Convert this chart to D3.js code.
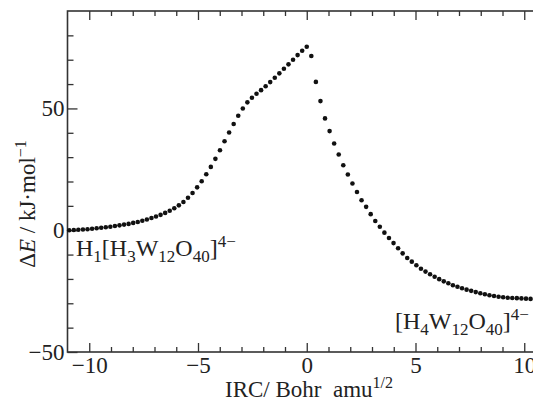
<!DOCTYPE html>
<html>
<head>
<meta charset="utf-8">
<title>IRC energy profile</title>
<script src="https://cdnjs.cloudflare.com/ajax/libs/d3/7.8.5/d3.min.js"></script>
<style>
  body { margin: 0; background: #fff; }
  svg text { font-family: "Liberation Serif", "Times New Roman", "DejaVu Serif", serif; fill: #222; }
</style>
</head>
<body>
<svg id="svg" width="533" height="409"></svg>
<script>
// IRC coordinate (Bohr amu^1/2) and relative energy (kJ/mol)
const ircLeft = [-10.92, -10.71, -10.5, -10.29, -10.08, -9.87, -9.66, -9.45, -9.24, -9.03,
  -8.82, -8.61, -8.4, -8.19, -7.98, -7.77, -7.56, -7.35, -7.14, -6.93,
  -6.72, -6.51, -6.3, -6.09, -5.88, -5.67, -5.46, -5.25, -5.04, -4.83,
  -4.62, -4.41, -4.2, -3.99, -3.78, -3.57, -3.36, -3.15, -2.94, -2.73,
  -2.52, -2.31, -2.1, -1.89, -1.68, -1.47, -1.26, -1.05, -0.84, -0.63,
  -0.42, -0.21, 0]
const energyLeft = [0.0, 0.1, 0.2, 0.3, 0.4, 0.6, 0.8, 1.0, 1.2, 1.4,
  1.7, 2.0, 2.3, 2.6, 3.0, 3.4, 3.9, 4.4, 5.0, 5.6,
  6.3, 7.1, 8.0, 9.0, 10.2, 11.6, 13.3, 15.3, 17.6, 20.1,
  23.0, 26.0, 29.3, 32.8, 36.5, 40.1, 43.6, 47.0, 50.0, 52.5,
  54.4, 56.0, 57.5, 59.1, 60.8, 62.6, 64.4, 66.3, 68.1, 70.0,
  71.9, 73.7, 75.3]

const ircRight = [0.21, 0.42, 0.63, 0.84, 1.05, 1.26, 1.47, 1.68, 1.89, 2.1,
  2.31, 2.52, 2.73, 2.94, 3.15, 3.36, 3.57, 3.78, 3.99, 4.2,
  4.41, 4.62, 4.83, 5.04, 5.25, 5.46, 5.67, 5.88, 6.09, 6.3,
  6.51, 6.72, 6.93, 7.14, 7.35, 7.56, 7.77, 7.98, 8.19, 8.4,
  8.61, 8.82, 9.03, 9.24, 9.45, 9.66, 9.87, 10.08, 10.29, 10.5,
  10.71, 10.92]
const energyRight = [71.5, 60.9, 53.0, 45.9, 40.7, 35.6, 31.1, 26.7, 22.9, 19.2,
  15.7, 12.3, 9.6, 6.6, 3.8, 1.4, -1.0, -3.2, -5.3, -7.4,
  -9.5, -11.4, -12.9, -14.4, -15.8, -17.0, -18.1, -19.1, -20.1, -21.0,
  -21.8, -22.6, -23.2, -23.8, -24.4, -24.9, -25.4, -25.9, -26.3, -26.7,
  -27.0, -27.3, -27.5, -27.7, -27.8, -27.9, -28.0, -28.1, -28.2, -28.3,
  -28.3, -28.4]

const xMajor = [-10, -5, 0, 5, 10]
const xMinor = [-9, -8, -7, -6, -4, -3, -2, -1, 1, 2, 3, 4, 6, 7, 8, 9]
const yMajor = [-50, 0, 50]
const yMinor = [-40, -30, -20, -10, 10, 20, 30, 40, 60, 70, 80]

const points = ircLeft.map((d, i) => ({x: d, y: energyLeft[i]}))
  .concat(ircRight.map((d, i) => ({x: d, y: energyRight[i]})))

const svg = d3.select('#svg')
const plotL = 67.5, plotT = 11, plotR = 546, plotB = 352
const fontMain = 23, fontSmall = 16

const x = d3.scaleLinear().domain([-11, 11]).range([plotL, plotR])
const y = d3.scaleLinear().domain([-50, 90]).range([plotB, plotT])

const axisColor = '#333'

// frame
svg.append('rect')
  .attr('x', plotL).attr('y', plotT)
  .attr('width', plotR - plotL).attr('height', plotB - plotT)
  .attr('fill', 'none').attr('stroke', axisColor).attr('stroke-width', 1.6)

function styleAxis(g) {
  g.select('.domain').remove()
  g.attr('font-family', null)
  g.selectAll('line').attr('stroke', axisColor).attr('stroke-width', 1.3)
  g.selectAll('text').attr('font-size', fontMain).attr('fill', '#222')
}

// bottom
svg.append('g').attr('transform', `translate(0,${plotB})`)
  .call(d3.axisBottom(x).tickValues(xMajor).tickSize(-9).tickPadding(5))
  .call(styleAxis)
svg.append('g').attr('transform', `translate(0,${plotB})`)
  .call(d3.axisBottom(x).tickValues(xMinor).tickSize(-5).tickFormat(''))
  .call(styleAxis)
// top
svg.append('g').attr('transform', `translate(0,${plotT})`)
  .call(d3.axisTop(x).tickValues(xMajor).tickSize(-9).tickFormat(''))
  .call(styleAxis)
svg.append('g').attr('transform', `translate(0,${plotT})`)
  .call(d3.axisTop(x).tickValues(xMinor).tickSize(-5).tickFormat(''))
  .call(styleAxis)
// left
svg.append('g').attr('transform', `translate(${plotL},0)`)
  .call(d3.axisLeft(y).tickValues(yMajor).tickSize(-10).tickPadding(3))
  .call(styleAxis)
svg.append('g').attr('transform', `translate(${plotL},0)`)
  .call(d3.axisLeft(y).tickValues(yMinor).tickSize(-6).tickFormat(''))
  .call(styleAxis)
// right
svg.append('g').attr('transform', `translate(${plotR},0)`)
  .call(d3.axisRight(y).tickValues(yMajor).tickSize(-10).tickFormat(''))
  .call(styleAxis)
svg.append('g').attr('transform', `translate(${plotR},0)`)
  .call(d3.axisRight(y).tickValues(yMinor).tickSize(-6).tickFormat(''))
  .call(styleAxis)

// points
svg.append('g').selectAll('circle')
  .data(points)
  .enter()
  .append('circle')
  .attr('cx', d => x(d.x))
  .attr('cy', d => y(d.y))
  .attr('r', 2.3)
  .attr('fill', '#111')

// x label
const xl = svg.append('text')
  .attr('x', 309).attr('y', 397)
  .attr('text-anchor', 'middle')
  .attr('font-size', fontMain)
xl.append('tspan').text('IRC/ Bohr\u2002amu')
xl.append('tspan').attr('dy', -9).attr('font-size', fontSmall).text('1/2')

// y label
const yl = svg.append('text')
  .attr('transform', 'translate(35,204) rotate(-90)')
  .attr('text-anchor', 'middle')
  .attr('font-size', fontMain)
yl.append('tspan').text('\u0394')
yl.append('tspan').attr('font-style', 'italic').text('E')
yl.append('tspan').text(' / kJ\u00b7mol')
yl.append('tspan').attr('dy', -9).attr('font-size', fontSmall).text('\u22121')

// structure labels
function formula(g, parts) {
  // parts: [text, kind] where kind is '', 'sub' or 'sup'
  let shift = 0
  parts.forEach(([t, kind]) => {
    const target = kind === 'sub' ? 6 : kind === 'sup' ? -9 : 0
    g.append('tspan')
      .attr('dy', target - shift)
      .attr('font-size', kind ? 17 : 24)
      .text(t)
    shift = target
  })
}

formula(svg.append('text').attr('x', 76).attr('y', 256),
  [['H', ''], ['1', 'sub'], ['[H', ''], ['3', 'sub'], ['W', ''], ['12', 'sub'],
   ['O', ''], ['40', 'sub'], [']', ''], ['4\u2212', 'sup']])

formula(svg.append('text').attr('x', 395).attr('y', 329),
  [['[H', ''], ['4', 'sub'], ['W', ''], ['12', 'sub'],
   ['O', ''], ['40', 'sub'], [']', ''], ['4\u2212', 'sup']])
</script>
</body>
</html>
